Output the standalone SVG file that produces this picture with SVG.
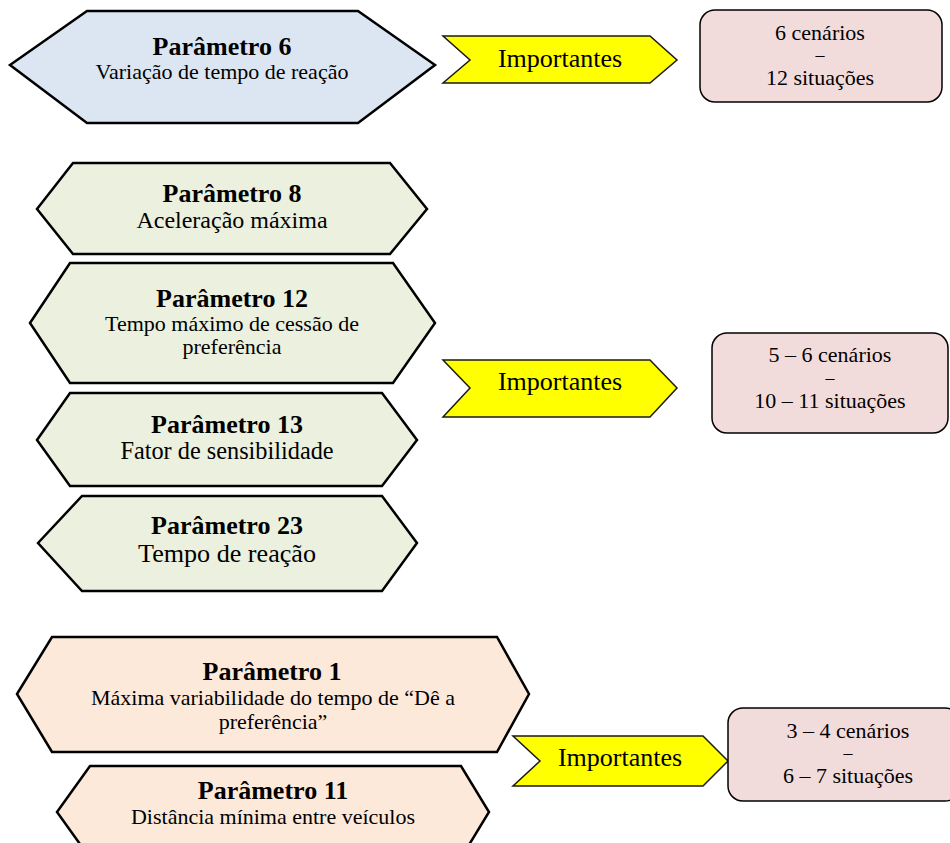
<svg xmlns="http://www.w3.org/2000/svg" width="950" height="843" viewBox="0 0 950 843">
  <style>
    text { font-family: "Liberation Serif", "Times New Roman", serif; fill: #000; text-anchor: middle; }
    .hex { stroke: #000; stroke-width: 2.5; stroke-linejoin: miter; }
    .blue { fill: #dce6f2; }
    .green { fill: #ebf1de; }
    .peach { fill: #fde9d9; }
    .title { font-weight: bold; font-size: 26px; }
    .arrow { fill: #ffff00; stroke: #1a1a1a; stroke-width: 1.5; }
    .box { fill: #f2dcdb; stroke: #000; stroke-width: 1.5; }
    .lbl { font-size: 26px; }
    .res { font-size: 22px; }
    .dash { font-size: 18px; }
  </style>

  <!-- Group 1: parameter 6 -->
  <g id="param6">
    <polygon class="hex blue" points="10,65 87,11 358,11 435,65 358,123 87,123"/>
    <text class="title" x="222" y="55">Parâmetro 6</text>
    <text x="222" y="79" font-size="22">Variação de tempo de reação</text>
  </g>

  <!-- Group 2: parameters 8, 12, 13, 23 -->
  <g id="param8">
    <polygon class="hex green" points="37,209 73,163 390,163 427,209 390,254 73,254"/>
    <text class="title" x="232" y="202">Parâmetro 8</text>
    <text x="232" y="228" font-size="24">Aceleração máxima</text>
  </g>
  <g id="param12">
    <polygon class="hex green" points="30,323 70,263 393,263 435,323 393,383 70,383"/>
    <text class="title" x="232" y="307">Parâmetro 12</text>
    <text x="232" y="331" font-size="22">Tempo máximo de cessão de</text>
    <text x="232" y="354" font-size="22">preferência</text>
  </g>
  <g id="param13">
    <polygon class="hex green" points="37,440 70,393 382,393 417,440 382,486 70,486"/>
    <text class="title" x="227" y="433">Parâmetro 13</text>
    <text x="227" y="459" font-size="24.3">Fator de sensibilidade</text>
  </g>
  <g id="param23">
    <polygon class="hex green" points="38,543 82,496 382,496 417,543 382,591 82,591"/>
    <text class="title" x="227" y="534">Parâmetro 23</text>
    <text x="227" y="562" font-size="25.5" textLength="178" lengthAdjust="spacingAndGlyphs">Tempo de reação</text>
  </g>

  <!-- Group 3: parameters 1, 11 -->
  <g id="param1">
    <polygon class="hex peach" points="17,694 52,637 497,637 529,694 497,752 52,752"/>
    <text class="title" x="272" y="680">Parâmetro 1</text>
    <text x="273" y="705" font-size="22">Máxima variabilidade do tempo de “Dê a</text>
    <text x="273" y="729" font-size="22">preferência”</text>
  </g>
  <g id="param11">
    <polygon class="hex peach" points="57,812 90,766 461,766 489,812 461,858 90,858"/>
    <text class="title" x="273" y="799">Parâmetro 11</text>
    <text x="273" y="824" font-size="22">Distância mínima entre veículos</text>
  </g>

  <!-- Connectors: chevron labels pointing to results -->
  <g id="connectors">
    <polygon class="arrow" points="443,36 650,36 677,60 650,83 443,83 470,60"/>
    <text class="lbl" x="560" y="67">Importantes</text>
    <polygon class="arrow" points="443,360 650,360 677,388 650,417 443,417 470,388"/>
    <text class="lbl" x="560" y="390">Importantes</text>
    <polygon class="arrow" points="513,736 703,736 728,761 703,786 513,786 540,761"/>
    <text class="lbl" x="620" y="766">Importantes</text>
  </g>

  <!-- Results -->
  <g id="result1">
    <rect class="box" x="700" y="10" width="242" height="92" rx="15"/>
    <text class="res" x="820" y="40">6 cenários</text>
    <text class="dash" x="820" y="61">–</text>
    <text class="res" x="820" y="85">12 situações</text>
  </g>
  <g id="result2">
    <rect class="box" x="712" y="333" width="236" height="100" rx="15"/>
    <text class="res" x="830" y="362">5 – 6 cenários</text>
    <text class="dash" x="830" y="383.5">–</text>
    <text class="res" x="830" y="408">10 – 11 situações</text>
  </g>
  <g id="result3">
    <rect class="box" x="728" y="708" width="232" height="93" rx="15"/>
    <text class="res" x="848" y="738">3 – 4 cenários</text>
    <text class="dash" x="848" y="759">–</text>
    <text class="res" x="848" y="783">6 – 7 situações</text>
  </g>
</svg>
